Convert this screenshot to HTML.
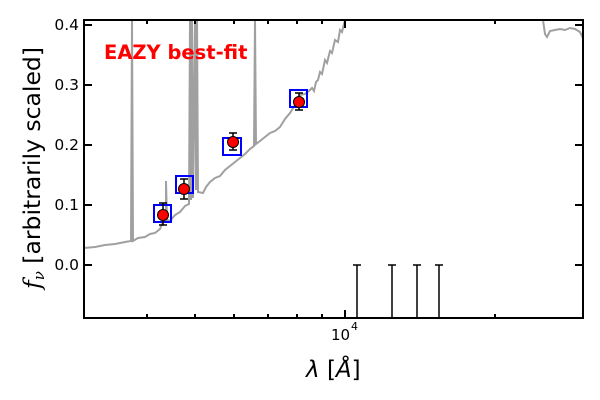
<!DOCTYPE html><html><head><style>body{margin:0;background:#fff}svg{display:block}text{font-family:"DejaVu Sans","Liberation Sans",sans-serif}</style></head><body>
<svg width="600" height="400" xmlns="http://www.w3.org/2000/svg">
<defs><clipPath id="c"><rect x="84" y="20" width="499" height="298"/></clipPath></defs>
<g clip-path="url(#c)">
<polyline fill="none" stroke="#a0a0a0" stroke-width="2" points="84,248 95,247 105,245 115,244 125,242 131,241 132,20 133,241 138,238 145,237 150,234 155,233 160,229 163,222 166,221 166,181 167,220 170,221 175,215 180,212 185,206 189,204 190,20 191,200 192,20 193,198 195,20 196,190 197,20 198,192 203,193 206,187 210,182 215,178 220,176 225,170 230,166 235,162 240,158 245,154 250,149 254,146 255,20 256,144 260,141 265,137 270,133 275,131 280,127 285,119 290,113 295,105 300,95 305,94 310,90 312,88 314,91 316,82 318,80 320,72 322,74 325,60 327,63 330,51 332,53 335,40 338,42 340,30 342,32 345,20"/>
<polyline fill="none" stroke="#a0a0a0" stroke-width="2" points="543,20 545,34 547,37 550,31 555,30 560,29 565,30 570,28 575,29 580,32 583,38"/>
<g fill="none" stroke="#00f" stroke-width="2">
<rect x="154" y="205" width="17" height="17"/><rect x="176" y="176" width="17" height="17"/><rect x="223" y="138" width="18" height="17"/><rect x="290" y="90" width="17" height="17"/><rect x="347" y="8" width="18" height="12"/></g>
<g stroke="#000" stroke-width="1.5"><line x1="163" y1="203" x2="163" y2="225"/><line x1="159" y1="203" x2="167" y2="203"/><line x1="159" y1="225" x2="167" y2="225"/>
<line x1="184" y1="179" x2="184" y2="199"/><line x1="180" y1="179" x2="188" y2="179"/><line x1="180" y1="199" x2="188" y2="199"/>
<line x1="233" y1="133" x2="233" y2="150"/><line x1="229" y1="133" x2="237" y2="133"/><line x1="229" y1="150" x2="237" y2="150"/>
<line x1="299" y1="93" x2="299" y2="110"/><line x1="295" y1="93" x2="303" y2="93"/><line x1="295" y1="110" x2="303" y2="110"/>
<line x1="357" y1="265" x2="357" y2="318"/><line x1="353" y1="265" x2="361" y2="265"/>
<line x1="392" y1="265" x2="392" y2="318"/><line x1="388" y1="265" x2="396" y2="265"/>
<line x1="417" y1="265" x2="417" y2="318"/><line x1="413" y1="265" x2="421" y2="265"/>
<line x1="439" y1="265" x2="439" y2="318"/><line x1="435" y1="265" x2="443" y2="265"/></g>
<g fill="#f00" stroke="#000" stroke-width="1"><circle cx="163" cy="215" r="5.5"/><circle cx="184" cy="189" r="5.5"/><circle cx="233" cy="142" r="5.5"/><circle cx="299" cy="102" r="5.5"/></g>
</g>
<text x="104" y="59" fill="#f00" font-size="19.5" font-weight="bold">EAZY best-fit</text>
<rect x="84" y="20" width="499" height="298" fill="none" stroke="#000" stroke-width="2"/>
<g stroke="#000" stroke-width="2">
<line x1="84" y1="25" x2="92" y2="25"/><line x1="84" y1="85" x2="92" y2="85"/><line x1="84" y1="145" x2="92" y2="145"/><line x1="84" y1="205" x2="92" y2="205"/><line x1="84" y1="265" x2="92" y2="265"/>
<line x1="583" y1="25" x2="575" y2="25"/><line x1="583" y1="85" x2="575" y2="85"/><line x1="583" y1="145" x2="575" y2="145"/><line x1="583" y1="205" x2="575" y2="205"/><line x1="583" y1="265" x2="575" y2="265"/>
<line x1="345" y1="318" x2="345" y2="310"/><line x1="345" y1="20" x2="345" y2="28"/>
<line x1="147" y1="318" x2="147" y2="314"/><line x1="195" y1="318" x2="195" y2="314"/><line x1="234" y1="318" x2="234" y2="314"/><line x1="268" y1="318" x2="268" y2="314"/><line x1="297" y1="318" x2="297" y2="314"/><line x1="322" y1="318" x2="322" y2="314"/><line x1="495" y1="318" x2="495" y2="314"/>
<line x1="147" y1="20" x2="147" y2="24"/><line x1="195" y1="20" x2="195" y2="24"/><line x1="234" y1="20" x2="234" y2="24"/><line x1="268" y1="20" x2="268" y2="24"/><line x1="297" y1="20" x2="297" y2="24"/><line x1="322" y1="20" x2="322" y2="24"/><line x1="495" y1="20" x2="495" y2="24"/>
</g>
<g font-size="15.5" text-anchor="end"><text x="79" y="30">0.4</text><text x="79" y="90">0.3</text><text x="79" y="150">0.2</text><text x="79" y="210">0.1</text><text x="79" y="270">0.0</text></g>
<text x="331" y="340" font-size="15">10</text><text x="351" y="330" font-size="11">4</text>
<text x="306" y="377" font-size="23" font-style="italic" font-family="DejaVu Serif,serif">λ <tspan font-style="normal">[</tspan>Å<tspan font-style="normal">]</tspan></text>
<text transform="translate(40,168) rotate(-90)" text-anchor="middle" font-size="23.5"><tspan font-style="italic" font-family="DejaVu Serif,serif">f</tspan><tspan font-size="15" dy="4" font-style="italic" font-family="DejaVu Serif,serif">ν</tspan><tspan dy="-4"> [arbitrarily scaled]</tspan></text>
</svg></body></html>
